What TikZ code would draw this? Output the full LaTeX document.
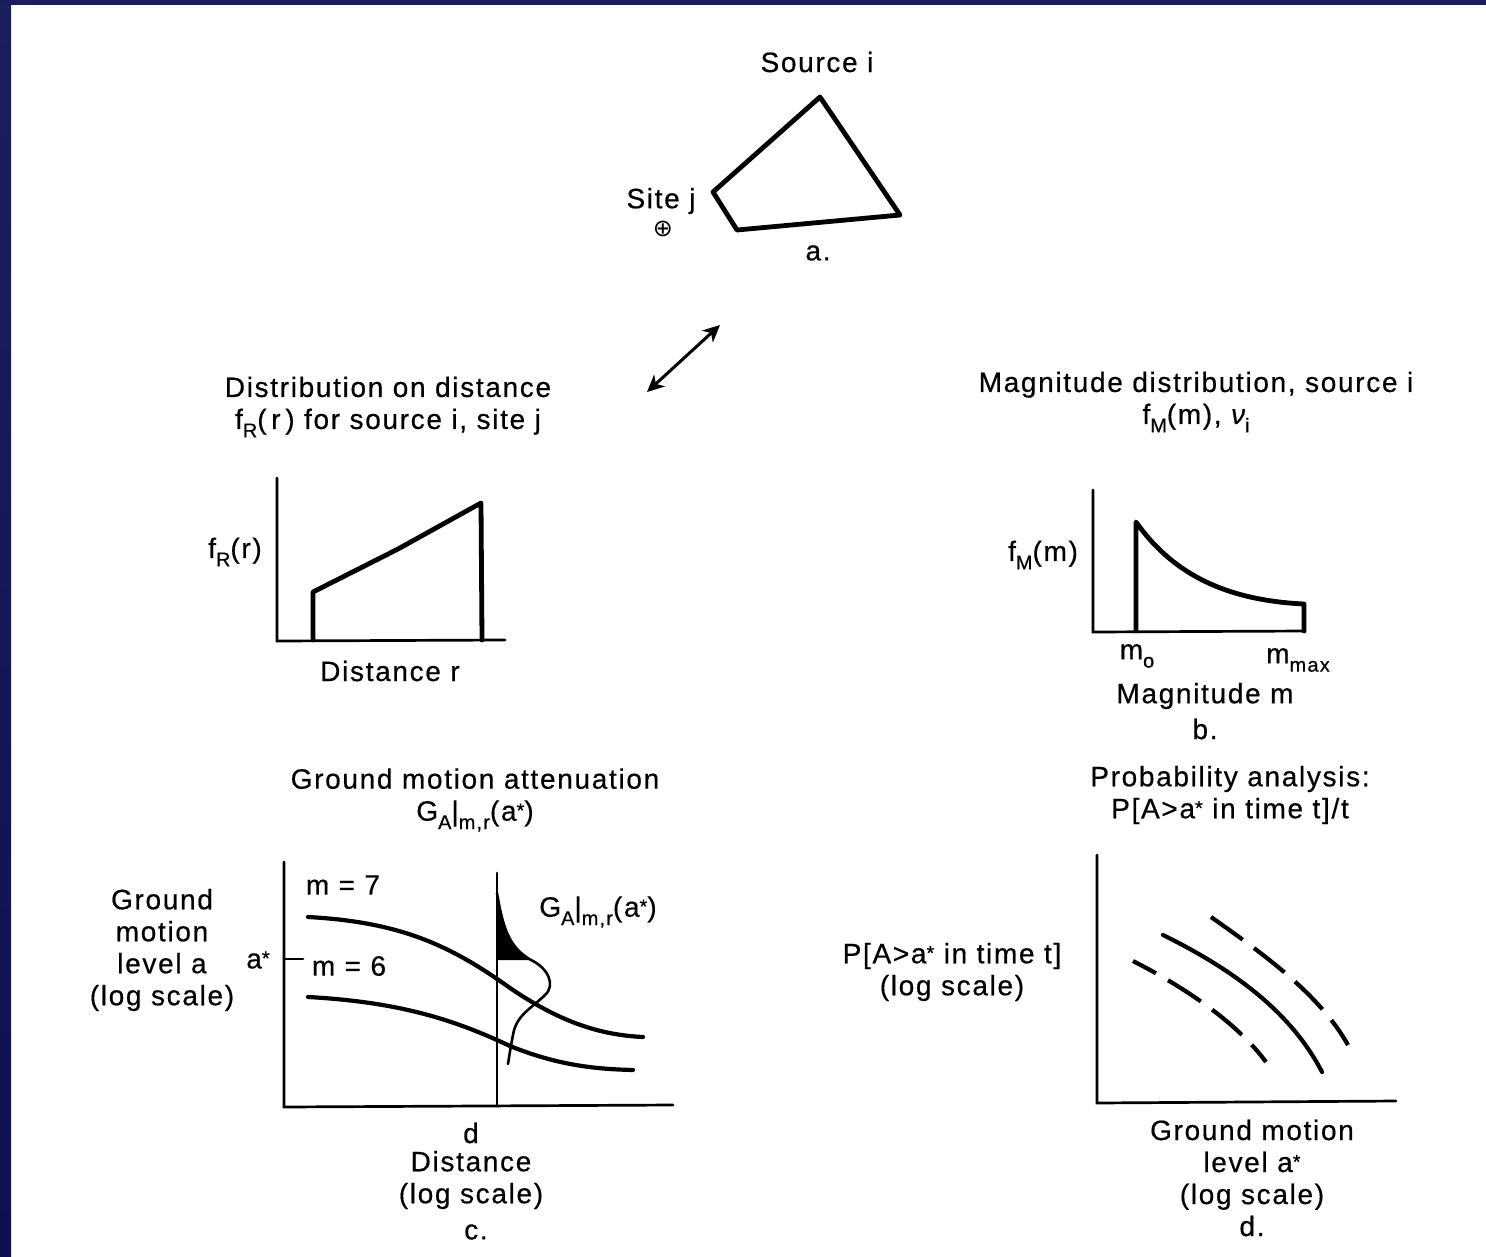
\documentclass[tikz,border=0pt]{standalone}
\usepackage{fontspec}
\setmainfont{Liberation Sans}[LetterSpace=6,FakeBold=0.5]
\newfontfamily\symfont{DejaVu Sans}
\usetikzlibrary{arrows.meta}
\definecolor{navy}{HTML}{1B1E5E}
\definecolor{bandtop}{HTML}{1C1F5E}
\definecolor{bandmid}{HTML}{3F4282}
\definecolor{bandbot}{HTML}{0E0F55}
\newcommand\lsub[1]{\raisebox{-0.3em}{\fontsize{20}{20}\selectfont #1}}
\newcommand\astr{\raisebox{0.12em}{\fontsize{20}{20}\selectfont *}}
\begin{document}
\begin{tikzpicture}[x=1pt,y=-1pt,
  lbl/.style={inner sep=0pt,font=\fontsize{28}{32}\selectfont,align=center,text=black},
  axisln/.style={line width=2.7pt,line cap=round},
  thickln/.style={line width=4.8pt,line join=round,line cap=round},
  curveln/.style={line width=4.2pt,line cap=round},
  thinln/.style={line width=2.6pt,line cap=round,line join=round},
  dashln/.style={line width=4.2pt,dash pattern=on 39pt off 14pt}]
\useasboundingbox (0,0) rectangle (1486,1256);
\fill[white] (0,0) rectangle (1486,1256);
\shade[top color=bandtop, middle color=bandmid, bottom color=bandbot] (0,0) rectangle (11,1256);
\fill[navy] (0,0) rectangle (1486,5);

% ---- a. source / site ----
\node[lbl] (src) at (817,62) {Source i};
\draw[thickln] (820,97) -- (900,215) -- (737,230) -- (713,192) -- cycle;
\node[lbl] (site) at (661,201) {Site j};
\node[inner sep=0pt,font=\symfont\fontsize{24}{24}\selectfont] (sitesym) at (663,229) {⊕};
\node[lbl] (la) at (818,253) {a.};
\coordinate (arrA) at (647,392);
\coordinate (arrB) at (720,325);
\draw[line width=3pt,{Stealth[length=17pt,width=16pt,inset=5pt]}-{Stealth[length=17pt,width=16pt,inset=5pt]}] (arrA) -- (arrB);

% ---- distance distribution ----
\node[lbl] (tR) at (388,407) {Distribution on distance\\f\lsub{R}(\,r\,) for source i, site j};
\draw[axisln] (277,478) -- (277,641) -- (505,640);
\draw[thickln] (313,640) -- (313,592) -- (398,549) -- (481,503) -- (482,640);
\node[lbl] (yR) at (235,552) {f\lsub{R}(r)};
\node[lbl] (xR) at (390,671) {Distance r};

% ---- magnitude distribution ----
\node[lbl] (tM) at (1196,402) {Magnitude distribution, source i\\f\lsub{M}(m), {\itshape ν}\lsub{i}};
\draw[axisln] (1093,490) -- (1093,632) -- (1305,631);
\draw[thickln] (1136,631) -- (1136,522) .. controls (1170,570) and (1220,600) .. (1304,604) -- (1304,631);
\node[lbl] (yM) at (1043,555) {f\lsub{M}(m)};
\node[lbl] (m0) at (1137,656) {m\lsub{o}};
\node[lbl] (mmax) at (1298,660) {m\lsub{max}};
\node[lbl] (xM) at (1205,696) {Magnitude m};
\node[lbl] (lb) at (1205,729) {b.};

% ---- attenuation ----
\node[lbl] (tC) at (475,800) {Ground motion attenuation\\G\lsub{A}|\lsub{m,r}(a\astr)};
\draw[axisln] (284,862) -- (284,1107) -- (673,1105);
\draw[axisln] (497,873) -- (497,1106);
\draw[axisln] (284,959) -- (303,959);
\draw[curveln] (308,917) .. controls (400,922) and (450,945) .. (510,988)
   .. controls (560,1022) and (600,1035) .. (643,1037);
\draw[curveln] (308,997) .. controls (400,1002) and (455,1020) .. (510,1046)
   .. controls (555,1064) and (590,1069) .. (633,1070);
\fill[black] (497,893) .. controls (503,930) and (510,948) .. (531,960) -- (497,960) -- cycle;
\draw[thinln] (497,893) .. controls (503,930) and (510,948) .. (531,960)
   .. controls (548,968) and (556,985) .. (545,995)
   .. controls (532,1008) and (516,1015) .. (513,1035)
   .. controls (510,1050) and (509,1058) .. (508,1064);
\node[lbl] (yC) at (162,950) {Ground\\motion\\level a\\(log scale)};
\node[lbl] (m7) at (343,885) {m = 7};
\node[lbl] (m6) at (349,966) {m = 6};
\node[lbl] (astar) at (258,960) {a\astr};
\node[lbl] (Gl) at (598,912) {G\lsub{A}|\lsub{m,r}(a\astr)};
\node[lbl] (dl) at (471,1133) {d};
\node[lbl] (xC) at (471,1180) {Distance\\(log scale)};
\node[lbl] (lc) at (476,1232) {c.};

% ---- probability ----
\node[lbl] (tD) at (1230,795) {Probability analysis:\\P[A>a\astr{} in time t]/t};
\draw[axisln] (1097,855) -- (1097,1103) -- (1396,1101);
\draw[curveln] (1163,935) .. controls (1230,968) and (1290,1010) .. (1322,1072);
\draw[dashln,dash phase=13pt] (1133,961) .. controls (1180,985) and (1235,1020) .. (1266,1062);
\draw[dashln] (1211,917) .. controls (1265,955) and (1320,995) .. (1348,1045);
\node[lbl] (yD) at (952,972) {P[A>a\astr{} in time t]\\(log scale)};
\node[lbl] (xD) at (1252,1178) {Ground motion\\level a\astr\\(log scale)\\d.};
\end{tikzpicture}
\end{document}
